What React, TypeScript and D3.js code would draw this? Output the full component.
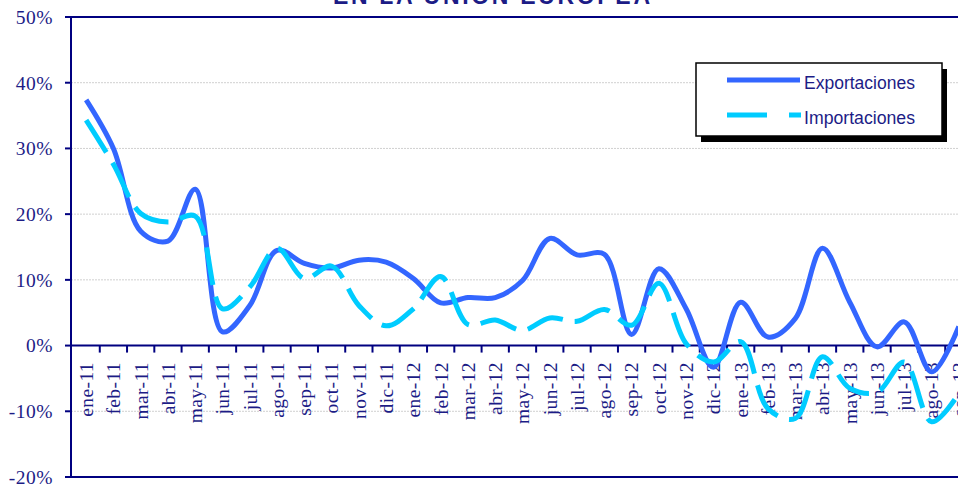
import React from "react";
import * as d3 from "d3";

const categories = [
  "ene-11","feb-11","mar-11","abr-11","may-11","jun-11","jul-11","ago-11","sep-11","oct-11","nov-11","dic-11",
  "ene-12","feb-12","mar-12","abr-12","may-12","jun-12","jul-12","ago-12","sep-12","oct-12","nov-12","dic-12",
  "ene-13","feb-13","mar-13","abr-13","may-13","jun-13","jul-13","ago-13","sep-13",
];

const exportaciones = [
  37.4, 30.0, 17.4, 15.9, 23.8, 2.1, 6.1, 14.5, 12.5, 11.8, 13.0, 12.7,
  10.2, 6.5, 7.3, 7.3, 9.9, 16.3, 13.8, 13.9, 1.7, 11.7, 5.6, -3.3,
  6.6, 1.3, 4.1, 14.8, 6.6, -0.2, 3.6, -4.0, 2.9,
];

const importaciones = [
  34.3, 27.6, 20.1, 18.8, 19.7, 5.6, 8.9, 14.8, 10.2, 12.1, 6.1, 3.0,
  5.6, 10.5, 3.2, 3.9, 2.3, 4.2, 3.7, 5.5, 3.1, 9.5, 0.3, -2.5,
  0.6, -9.6, -11.1, -1.7, -6.5, -7.1, -2.5, -11.6, -7.3,
];

const yTicks = [-20, -10, 0, 10, 20, 30, 40, 50];
const gridTicks = [-10, 10, 20, 30, 40];
const title = "EN LA UNIÓN EUROPEA";
const seriesNames = ["Exportaciones", "Importaciones"];

const NAVY = "#000080";
const TEXT = "#1c1c86";
const EXP_COLOR = "#3366ff";
const IMP_COLOR = "#00ccff";

export default function App() {
  const W = 958, H = 486;
  const left = 71, top = 17, bottom = 477, right = 972;
  const x = d3.scaleBand<string>().domain(categories).range([72.5, 972.5]).paddingInner(0).paddingOuter(0);
  const y = d3.scaleLinear().domain([-20, 50]).range([bottom, top]);
  const cx = (c: string) => (x(c) as number) + x.bandwidth() / 2;

  const line = d3
    .line<number>()
    .x((_, i) => cx(categories[i]))
    .y((d) => y(d))
    .curve(d3.curveCatmullRom.alpha(0.5));

  const serif = "'Liberation Serif', 'Times New Roman', serif";
  const sans = "'Liberation Sans', Arial, sans-serif";

  return (
    <svg width={W} height={H} style={{ position: "absolute", left: 0, top: 0, background: "#fff" }}>
      <rect x={0} y={0} width={W} height={H} fill="#fff" />
      {/* title (cut at top, as in the source) */}
      <text x={333} y={4} fontFamily={sans} fontWeight="bold" fontSize={23} fill={TEXT}
        textLength={317} lengthAdjust="spacing">{title}</text>

      {/* grid */}
      {gridTicks.map((t) => (
        <line key={"g" + t} x1={left} x2={right} y1={y(t)} y2={y(t)} stroke="#d0d0d0" strokeWidth={1} strokeDasharray="2,1" />
      ))}

      {/* plot borders */}
      <line x1={left} x2={right} y1={top} y2={top} stroke={NAVY} strokeWidth={2} />
      <line x1={left} x2={right} y1={bottom} y2={bottom} stroke={NAVY} strokeWidth={2} />
      <line x1={left} x2={left} y1={top} y2={bottom} stroke={NAVY} strokeWidth={2} />
      <line x1={left} x2={right} y1={y(0)} y2={y(0)} stroke={NAVY} strokeWidth={2} />

      {/* y ticks & labels */}
      {yTicks.map((t) => (
        <g key={"y" + t}>
          <line x1={left - 6} x2={left} y1={y(t)} y2={y(t)} stroke={NAVY} strokeWidth={2} />
          <text x={53} y={y(t)} dy="0.35em" textAnchor="end" fontFamily={serif} fontSize={19.5}
            letterSpacing={0.5} fill={TEXT}>{t + "%"}</text>
        </g>
      ))}

      {/* x ticks */}
      {categories.slice(1).map((c) => (
        <line key={"xt" + c} x1={x(c) as number} x2={x(c) as number} y1={y(0)} y2={y(0) + 7} stroke={NAVY} strokeWidth={2} />
      ))}
      {/* x labels */}
      {categories.map((c) => (
        <text key={"xl" + c} transform={`translate(${cx(c)},362) rotate(-90)`} dy="0.35em" textAnchor="end"
          fontFamily={serif} fontSize={19.5} letterSpacing={0.4} fill={TEXT}>{c}</text>
      ))}

      {/* series */}
      <path d={line(exportaciones) || ""} fill="none" stroke={EXP_COLOR} strokeWidth={5} strokeLinejoin="round" />
      <path d={line(importaciones) || ""} fill="none" stroke={IMP_COLOR} strokeWidth={5} strokeDasharray="38,12" />

      {/* legend */}
      <rect x={701} y={69} width={246} height={73} fill="#000" />
      <rect x={696} y={63} width={246} height={73} fill="#fff" stroke="#000" strokeWidth={1.5} />
      <line x1={727} x2={800} y1={80} y2={80} stroke={EXP_COLOR} strokeWidth={5} />
      <text x={804} y={89} fontFamily={sans} fontSize={17.5} fill={TEXT} textLength={111} lengthAdjust="spacingAndGlyphs">{seriesNames[0]}</text>
      <line x1={727} x2={801} y1={115} y2={115} stroke={IMP_COLOR} strokeWidth={5} strokeDasharray="40,22" />
      <text x={804} y={124} fontFamily={sans} fontSize={17.5} fill={TEXT} textLength={111} lengthAdjust="spacingAndGlyphs">{seriesNames[1]}</text>
    </svg>
  );
}
